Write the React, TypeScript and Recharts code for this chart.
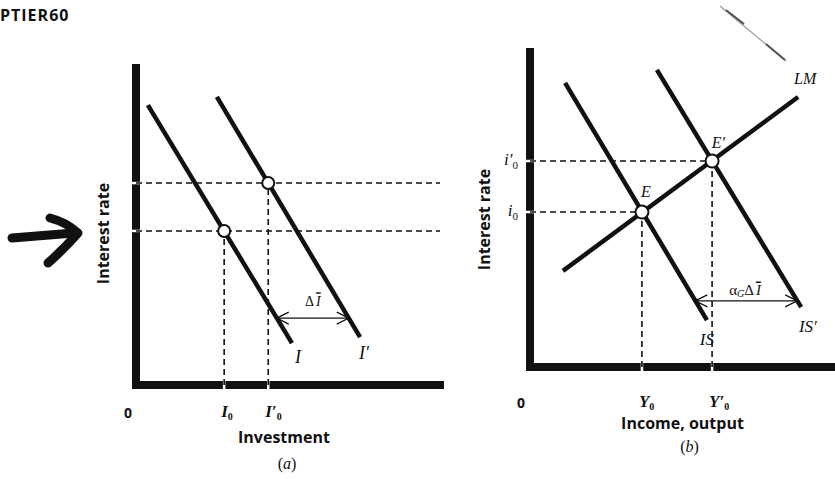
import React from "react";
import {
  ComposedChart,
  Line,
  XAxis,
  YAxis,
  ReferenceLine,
  ReferenceDot,
} from "recharts";

const INK = "#111";
const SERIF = "'Liberation Serif', 'Times New Roman', serif";
const SANS = "'Open Sans', 'DejaVu Sans', sans-serif";

// (a) investment schedule, before and after the autonomous shift
const investI = [
  { x: 3.9, y: 88.3 },
  { x: 51.3, y: 13.2 },
];
const investIPrime = [
  { x: 26.6, y: 90.9 },
  { x: 73.7, y: 15.1 },
];
const investLevels = [29.0, 43.5]; // I0, I'0
const ratesA = [48.6, 63.7]; // interest rate at each point
const shiftA = { y: 21.1, from: 46.3, to: 70.0 };

// (b) IS-LM
const lmCurve = [
  { x: 10.8, y: 30.5 },
  { x: 87.9, y: 85.7 },
];
const isCurve = [
  { x: 11.5, y: 90.2 },
  { x: 58.0, y: 14.9 },
];
const isPrimeCurve = [
  { x: 41.6, y: 94.3 },
  { x: 88.9, y: 19.0 },
];
const incomeLevels = [36.7, 59.7]; // Y0, Y'0
const ratesB = [49.2, 65.4]; // i0, i'0
const shiftB = { y: 21, from: 54.2, to: 87.6 };

const italic: React.CSSProperties = { fontFamily: SERIF, fontStyle: "italic", fill: INK };
const title: React.CSSProperties = { font: `bold 16px ${SANS}`, fill: INK };

// text pinned to a data point
function note(
  key: string,
  x: number,
  y: number,
  body: React.ReactNode,
  style: React.CSSProperties,
  anchor: "start" | "middle" | "end" = "middle"
) {
  return (
    <ReferenceDot
      key={key}
      x={x}
      y={y}
      r={0}
      fill="none"
      stroke="none"
      ifOverflow="visible"
      label={{
        content: ({ viewBox }: any) => (
          <text
            x={viewBox.x}
            y={viewBox.y}
            textAnchor={anchor}
            dominantBaseline="central"
            style={style}
          >
            {body}
          </text>
        ),
      }}
    />
  );
}

// double headed open arrow for the shift
const shiftArrow = (p: any) => {
  const { x1, y1, x2, y2 } = p;
  return (
    <g stroke={INK} strokeWidth={1.3} fill="none">
      <line x1={x1} y1={y1} x2={x2} y2={y2} />
      <path d={`M${x1 + 12} ${y1 - 6} L${x1} ${y1} L${x1 + 12} ${y1 + 6}`} />
      <path d={`M${x2 - 12} ${y2 - 6} L${x2} ${y2} L${x2 - 12} ${y2 + 6}`} />
    </g>
  );
};

function xTick(levels: number[], name: string, originDx: number, dy: number) {
  return (props: any) => {
    const { x, y, payload } = props;
    if (payload.value === 0) {
      return (
        <text x={x + originDx} y={y + dy + 1} textAnchor="middle" style={{ font: `bold 14px ${SANS}`, fill: INK }}>
          0
        </text>
      );
    }
    const prime = payload.value === levels[1];
    return (
      <text x={x - 3} y={y + dy} textAnchor="start" style={{ ...italic, fontWeight: "bold", fontSize: 17 }}>
        {name}
        {prime ? "′" : ""}
        <tspan dy={3} fontSize={10} fontStyle="normal">0</tspan>
      </text>
    );
  };
}

const rateTick = (props: any) => {
  const { x, y, payload } = props;
  const prime = payload.value === ratesB[1];
  return (
    <text x={x - 12} y={y + 4} textAnchor="end" style={{ ...italic, fontSize: 17 }}>
      i{prime ? "′" : ""}
      <tspan dy={4} fontSize={11} fontStyle="normal">0</tspan>
    </text>
  );
};

const curve = (key: string, data: { x: number; y: number }[]) => (
  <Line
    key={key}
    data={data}
    dataKey="y"
    type="linear"
    stroke={INK}
    strokeWidth={4.5}
    dot={false}
    activeDot={false}
    isAnimationActive={false}
  />
);

const dashed = { stroke: INK, strokeWidth: 1.6, strokeDasharray: "6 4" };
const gap = { stroke: "#fff", strokeWidth: 2.5 };
const axisStroke = { stroke: INK, strokeWidth: 8, strokeLinecap: "square" as const };

// thick L-shaped axes with small white breaks where the guide lines meet them
function axes(xs: number[], ys: number[], xEnd: number) {
  return [
    <ReferenceLine key="ax" segment={[{ x: 0, y: 0 }, { x: xEnd, y: 0 }]} ifOverflow="visible" {...axisStroke} />,
    <ReferenceLine key="ay" segment={[{ x: 0, y: 0 }, { x: 0, y: 100 }]} ifOverflow="visible" {...axisStroke} />,
    ...xs.map((v, i) => (
      <ReferenceLine key={`gx${i}`} segment={[{ x: v, y: -1.6 }, { x: v, y: 1.6 }]} ifOverflow="visible" {...gap} />
    )),
    ...ys.map((r, i) => (
      <ReferenceLine key={`gy${i}`} segment={[{ x: -1.6, y: r }, { x: 1.6, y: r }]} ifOverflow="visible" {...gap} />
    )),
  ];
}

function PanelA() {
  return (
    <ComposedChart width={450} height={479} margin={{ top: 68, right: 10, bottom: 54, left: 96 }}>
      <XAxis
        dataKey="x"
        type="number"
        domain={[0, 100]}
        ticks={[0, ...investLevels]}
        interval={0}
        tickSize={0}
        tickMargin={0}
        tick={xTick(investLevels, "I", -8, 32)}
        tickLine={false}
        axisLine={false}
        height={40}
        label={{
          content: ({ viewBox }: any) => (
            <g>
              <text x={viewBox.x + viewBox.width / 2 - 4} y={viewBox.y + 58} textAnchor="middle" style={title}>
                Investment
              </text>
              <text x={viewBox.x + viewBox.width / 2 - 1} y={viewBox.y + 84} textAnchor="middle" style={{ fontFamily: SERIF, fontSize: 16, fill: INK }}>
                (<tspan fontStyle="italic">a</tspan>)
              </text>
            </g>
          ),
        }}
      />
      <YAxis
        type="number"
        domain={[0, 100]}
        tick={false}
        tickLine={false}
        axisLine={false}
        width={40}
        label={{
          content: ({ viewBox }: any) => {
            const cx = viewBox.x + 7;
            const cy = viewBox.y + viewBox.height / 2 + 7;
            return (
              <text x={cx} y={cy} transform={`rotate(-90 ${cx} ${cy})`} textAnchor="middle" dominantBaseline="central" style={title}>
                Interest rate
              </text>
            );
          },
        }}
      />
      {axes(investLevels, ratesA, 100)}
      {ratesA.map((r, i) => (
        <ReferenceLine key={`h${i}`} segment={[{ x: 0, y: r }, { x: 100, y: r }]} {...dashed} />
      ))}
      {investLevels.map((v, i) => (
        <ReferenceLine key={`v${i}`} segment={[{ x: v, y: 0 }, { x: v, y: ratesA[i] }]} {...dashed} />
      ))}
      {curve("I", investI)}
      {curve("I'", investIPrime)}
      <ReferenceLine segment={[{ x: shiftA.from, y: shiftA.y }, { x: shiftA.to, y: shiftA.y }]} shape={shiftArrow} />
      {investLevels.map((v, i) => (
        <ReferenceDot key={`p${i}`} x={v} y={ratesA[i]} r={6} fill="#fff" stroke={INK} strokeWidth={2} />
      ))}
      {note("lblI", 53.3, 8.8, "I", { ...italic, fontSize: 18 })}
      {note("lblI2", 75, 10.1, "I′", { ...italic, fontSize: 18 })}
      {note(
        "dI",
        58.2,
        26.4,
        <>
          <tspan fontStyle="normal">Δ</tspan>
          <tspan dx={2} textDecoration="overline">I</tspan>
        </>,
        { ...italic, fontSize: 14 }
      )}
    </ComposedChart>
  );
}

function PanelB() {
  return (
    <ComposedChart width={415} height={479} margin={{ top: 52, right: 0, bottom: 72, left: 70 }}>
      <XAxis
        dataKey="x"
        type="number"
        domain={[0, 100]}
        ticks={[0, ...incomeLevels]}
        interval={0}
        tickSize={0}
        tickMargin={0}
        tick={xTick(incomeLevels, "Y", -9, 40)}
        tickLine={false}
        axisLine={false}
        height={40}
        label={{
          content: ({ viewBox }: any) => (
            <g>
              <text x={viewBox.x + viewBox.width / 2} y={viewBox.y + 62} textAnchor="middle" style={title}>
                Income, output
              </text>
              <text x={viewBox.x + viewBox.width / 2 + 7} y={viewBox.y + 85} textAnchor="middle" style={{ fontFamily: SERIF, fontSize: 16, fill: INK }}>
                (<tspan fontStyle="italic">b</tspan>)
              </text>
            </g>
          ),
        }}
      />
      <YAxis
        type="number"
        domain={[0, 100]}
        ticks={ratesB}
        interval={0}
        tickSize={0}
        tickMargin={0}
        tick={rateTick}
        tickLine={false}
        axisLine={false}
        width={40}
        label={{
          content: ({ viewBox }: any) => {
            const cx = viewBox.x - 6;
            const cy = viewBox.y + viewBox.height / 2 + 10;
            return (
              <text x={cx} y={cy} transform={`rotate(-90 ${cx} ${cy})`} textAnchor="middle" dominantBaseline="central" style={title}>
                Interest rate
              </text>
            );
          },
        }}
      />
      {axes(incomeLevels, ratesB, 102)}
      {ratesB.map((r, i) => (
        <ReferenceLine key={`h${i}`} segment={[{ x: 0, y: r }, { x: incomeLevels[i], y: r }]} {...dashed} />
      ))}
      {incomeLevels.map((v, i) => (
        <ReferenceLine key={`v${i}`} segment={[{ x: v, y: 0 }, { x: v, y: ratesB[i] }]} {...dashed} />
      ))}
      {curve("LM", lmCurve)}
      {curve("IS", isCurve)}
      {curve("IS'", isPrimeCurve)}
      <ReferenceLine segment={[{ x: shiftB.from, y: shiftB.y }, { x: shiftB.to, y: shiftB.y }]} shape={shiftArrow} />
      {incomeLevels.map((v, i) => (
        <ReferenceDot key={`p${i}`} x={v} y={ratesB[i]} r={6.5} fill="#fff" stroke={INK} strokeWidth={2} />
      ))}
      {note("LM", 90.2, 91.7, "LM", { ...italic, fontSize: 16 })}
      {note("E", 38, 55.6, "E", { ...italic, fontSize: 16 })}
      {note("E2", 61.8, 71.4, "E′", { ...italic, fontSize: 16 })}
      {note("IS", 58, 8.6, "IS", { ...italic, fontSize: 17 })}
      {note("IS2", 91.1, 13, "IS′", { ...italic, fontSize: 17 })}
      {note(
        "shift",
        70.5,
        24.3,
        <>
          <tspan fontStyle="normal">α</tspan>
          <tspan dy={3} fontSize={10}>G</tspan>
          <tspan dy={-3} fontStyle="normal">Δ</tspan>
          <tspan dx={2} textDecoration="overline">I</tspan>
        </>,
        { ...italic, fontSize: 15 }
      )}
    </ComposedChart>
  );
}

export default function App() {
  return (
    <div style={{ position: "absolute", left: 0, top: 0, width: 835, height: 479, background: "#fff", overflow: "hidden" }}>
      <div style={{ position: "absolute", left: 0, top: 4, font: `bold 16px ${SANS}`, color: INK, letterSpacing: 1 }}>
        PTIER60
      </div>
      {/* hand drawn arrow in the margin */}
      <svg style={{ position: "absolute", left: 0, top: 0 }} width={100} height={300}>
        <g stroke={INK} strokeWidth={9} fill="none" strokeLinecap="round" strokeLinejoin="round">
          <path d="M12 238 L74 233" />
          <path d="M50 218 Q66 222 78 233 Q64 249 48 263" />
        </g>
      </svg>
      {/* pen mark top right */}
      <svg style={{ position: "absolute", left: 710, top: 0 }} width={90} height={70}>
        <line x1={10} y1={6} x2={76} y2={61} stroke="#999" strokeWidth={1.2} />
        <line x1={16} y1={10} x2={34} y2={24} stroke="#555" strokeWidth={2} />
        <line x1={56} y1={44} x2={75} y2={60} stroke="#555" strokeWidth={2} />
      </svg>
      <div style={{ position: "absolute", left: 0, top: 0 }}>
        <PanelA />
      </div>
      <div style={{ position: "absolute", left: 420, top: 0 }}>
        <PanelB />
      </div>
    </div>
  );
}
